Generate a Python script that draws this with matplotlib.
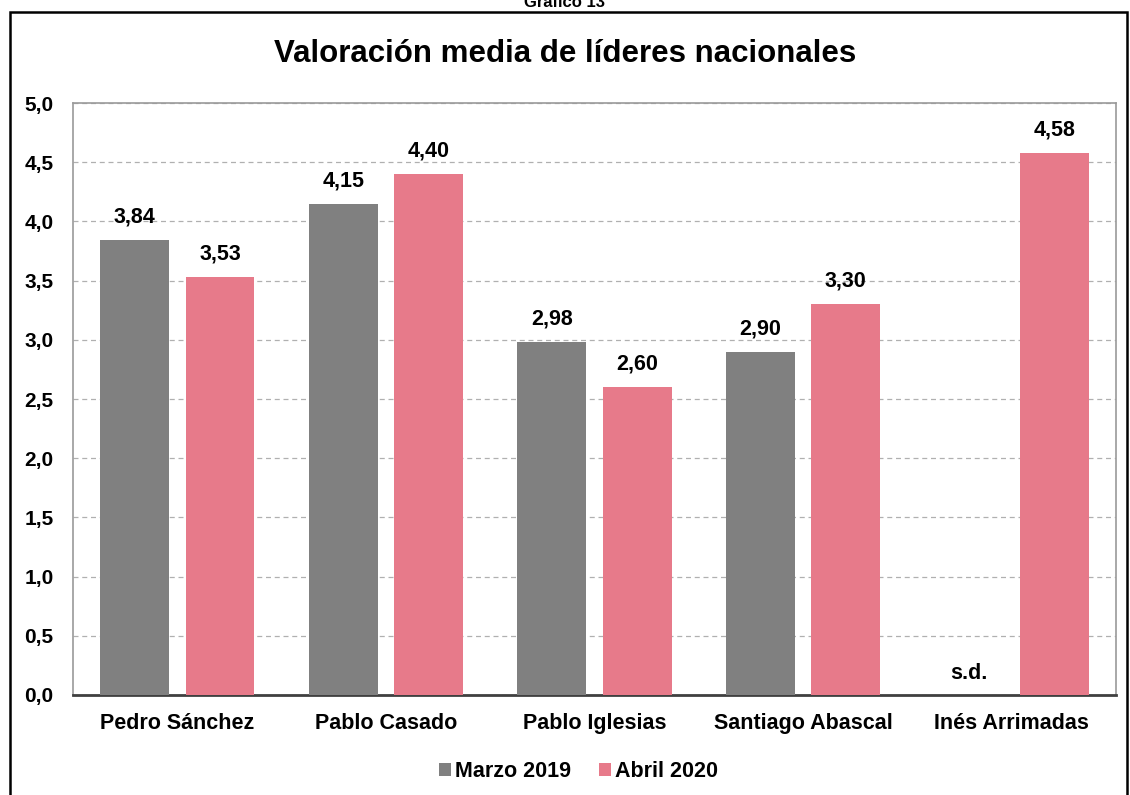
import matplotlib.pyplot as plt
import matplotlib.patches as mpatches
import numpy as np

plt.rcParams['font.family'] = ['Liberation Sans', 'DejaVu Sans']
plt.rcParams['font.weight'] = 'bold'

# Data
leaders = ["Pedro Sánchez", "Pablo Casado", "Pablo Iglesias", "Santiago Abascal", "Inés Arrimadas"]
marzo_2019 = [3.84, 4.15, 2.98, 2.90, np.nan]   # Arrimadas: sin datos
abril_2020 = [3.53, 4.40, 2.60, 3.30, 4.58]
yticks = [0.0, 0.5, 1.0, 1.5, 2.0, 2.5, 3.0, 3.5, 4.0, 4.5, 5.0]

GREY = "#808080"
PINK = "#E77A8A"
FS = 15.5

fig = plt.figure(figsize=(11.3, 7.95), dpi=100)
ax = fig.add_axes([0.0646, 0.1258, 0.9230, 0.7446])

x = np.arange(len(leaders))
w = 0.33
off = 0.205
b1 = ax.bar(x - off, marzo_2019, w, color=GREY, label="Marzo 2019", zorder=3)
b2 = ax.bar(x + off, abril_2020, w, color=PINK, label="Abril 2020", zorder=3)

def fmt(v):
    return ("%.2f" % v).replace(".", ",")

for xi, v in zip(x - off, marzo_2019):
    if np.isnan(v):
        ax.annotate("s.d.", (xi, 0), xytext=(0, 8), textcoords="offset points",
                    ha="center", va="bottom", fontsize=FS, fontweight="bold")
    else:
        ax.annotate(fmt(v), (xi, v), xytext=(0, 9), textcoords="offset points",
                    ha="center", va="bottom", fontsize=FS, fontweight="bold")
for xi, v in zip(x + off, abril_2020):
    ax.annotate(fmt(v), (xi, v), xytext=(0, 9), textcoords="offset points",
                ha="center", va="bottom", fontsize=FS, fontweight="bold")

ax.set_xlim(-0.5, len(leaders) - 0.5)
ax.set_ylim(0, 5)
ax.set_yticks(yticks)
ax.set_yticklabels([("%.1f" % t).replace(".", ",") for t in yticks])
ax.set_xticks(x)
ax.set_xticklabels(leaders)
ax.tick_params(axis="both", length=0)
ax.tick_params(axis="y", pad=14, labelsize=15)
ax.tick_params(axis="x", pad=13, labelsize=FS)
for lab in ax.get_xticklabels() + ax.get_yticklabels():
    lab.set_fontweight("bold")

ax.yaxis.grid(True, linestyle=(0, (4, 3)), color="#b0b0b0", linewidth=0.9, zorder=0)
for s in ["top", "right", "left"]:
    ax.spines[s].set_color("#9a9a9a")
    ax.spines[s].set_linewidth(1.2)
ax.spines["bottom"].set_color("#404040")
ax.spines["bottom"].set_linewidth(2)

fig.text(0.5, 0.932, "Valoración media de líderes nacionales", ha="center", va="center",
         fontsize=22.5, fontweight="bold")
fig.text(0.5, 0.997, "Gráfico 13", ha="center", va="center", fontsize=12, fontweight="bold")

# outer frame
frame = mpatches.Rectangle((0.009, -0.05), 0.988, 1.035, transform=fig.transFigure,
                           fill=False, edgecolor="black", linewidth=1.8, clip_on=False)
fig.patches.append(frame)

fig.legend(handles=[b1, b2], loc="center", bbox_to_anchor=(0.512, 0.029), ncol=2,
           frameon=False, handlelength=0.55, handleheight=0.55,
           handletextpad=0.2, columnspacing=1.3, prop={"weight": "bold", "size": FS})

fig.savefig("out.png", dpi=100)
